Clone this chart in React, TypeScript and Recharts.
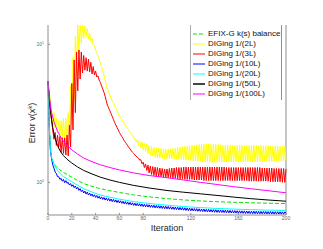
import { LineChart, Line, XAxis, YAxis, Legend, ReferenceLine } from "recharts";

// iteration index for the oscillating runs (one value per iteration)
const iterations = Array.from({ length: 201 }, (_, i) => i);

// sampled iterations for the smooth runs
const sampleIters = [0, 1, 2, 3, 4, 5, 6, 8, 10, 13, 16, 20, 25, 30, 37, 44, 52, 60, 72, 85, 100, 114, 128, 142, 156, 170, 185, 200];

const xTicks = [0, 20, 40, 60, 80, 100, 120, 140, 160, 180, 200];
const yTicks = [1, 10];

const efixG = [5.4, 2.7, 1.85, 1.55, 1.43, 1.37, 1.33, 1.27, 1.23, 1.18, 1.14, 1.09, 1.03, 0.98, 0.935, 0.9, 0.87, 0.845, 0.81, 0.785, 0.762, 0.746, 0.733, 0.724, 0.717, 0.711, 0.706, 0.702];
const diging20L = [5.4, 2.6, 1.75, 1.52, 1.42, 1.36, 1.3, 1.22, 1.16, 1.1, 1.06, 1.01, 0.95, 0.9, 0.85, 0.81, 0.78, 0.755, 0.725, 0.703, 0.683, 0.668, 0.656, 0.647, 0.64, 0.634, 0.629, 0.625];
const diging50L = [5.4, 4.0, 3.3, 2.85, 2.5, 2.25, 2.08, 1.85, 1.7, 1.56, 1.47, 1.38, 1.29, 1.22, 1.15, 1.09, 1.04, 1.0, 0.95, 0.91, 0.873, 0.848, 0.826, 0.804, 0.782, 0.762, 0.745, 0.73];
const diging100L = [5.4, 4.3, 3.6, 3.2, 2.95, 2.75, 2.6, 2.35, 2.18, 1.98, 1.85, 1.72, 1.6, 1.5, 1.41, 1.34, 1.28, 1.23, 1.17, 1.12, 1.08, 1.04, 1.0, 0.965, 0.93, 0.9, 0.87, 0.84];

const diging2L = [
  5.4, 4.6, 3.9, 3.4, 2.6, 3.2, 2.5, 2.9, 2.3, 2.8,
  2.2, 2.8, 2.1, 2.9, 2.0, 2.9, 2.0, 3.2, 2.1, 5.0,
  2.6, 8.0, 4.0, 11.5, 6.0, 15, 8.5, 15, 10.2, 14.2,
  11.0, 13.6, 11.4, 13.0, 11.0, 12.0, 10.6, 11.0, 9.9, 9.8,
  9.1, 8.7, 8.2, 7.8, 7.3, 6.9, 6.5, 6.0, 5.5, 5.1,
  4.7, 4.5, 4.3, 4.1, 3.9, 3.77, 3.6, 3.45, 3.3, 3.15,
  3.03, 2.95, 2.85, 2.76, 2.68, 2.6, 2.52, 2.45, 2.38, 2.3,
  2.22, 2.2, 2.08, 2.1, 1.96, 2.04, 1.86, 2.0, 1.78, 1.96,
  1.72, 1.93, 1.68, 1.9, 1.62, 1.86, 1.58, 1.82, 1.55, 1.8,
  1.52, 1.79, 1.5, 1.77, 1.5, 1.76, 1.49, 1.75, 1.48, 1.74,
  1.48, 1.74, 1.49, 1.75, 1.48, 1.76, 1.48, 1.77, 1.47, 1.78,
  1.47, 1.79, 1.46, 1.81, 1.46, 1.82, 1.45, 1.83, 1.45, 1.84,
  1.44, 1.85, 1.43, 1.86, 1.43, 1.87, 1.42, 1.88, 1.42, 1.88,
  1.41, 1.89, 1.41, 1.89, 1.41, 1.89, 1.4, 1.89, 1.4, 1.89,
  1.4, 1.88, 1.4, 1.88, 1.41, 1.87, 1.41, 1.86, 1.41, 1.86,
  1.41, 1.86, 1.41, 1.85, 1.41, 1.85, 1.41, 1.85, 1.41, 1.85,
  1.41, 1.85, 1.41, 1.85, 1.41, 1.85, 1.41, 1.85, 1.41, 1.85,
  1.41, 1.85, 1.41, 1.85, 1.41, 1.85, 1.41, 1.85, 1.41, 1.85,
  1.41, 1.84, 1.42, 1.84, 1.42, 1.84, 1.42, 1.83, 1.42, 1.83,
  1.42, 1.83, 1.43, 1.82, 1.43, 1.82, 1.43, 1.82, 1.43, 1.82,
  1.44,
];

const diging3L = [
  5.4, 4.3, 3.4, 2.8, 2.4, 2.05, 2.3, 1.85, 2.2, 1.8,
  2.15, 1.65, 2.1, 1.62, 2.1, 1.58, 2.2, 1.55, 2.6, 1.8,
  5.2, 2.4, 7.7, 3.2, 8.8, 4.6, 9.1, 5.6, 8.8, 6.2,
  8.3, 6.5, 8.0, 6.4, 7.8, 6.3, 7.4, 6.1, 6.9, 6.0,
  6.4, 5.8, 5.9, 5.5, 5.3, 5.0, 4.75, 4.5, 4.2, 3.9,
  3.6, 3.45, 3.3, 3.15, 3.0, 2.85, 2.72, 2.6, 2.5, 2.4,
  2.3, 2.22, 2.15, 2.08, 2.01, 1.95, 1.9, 1.84, 1.79, 1.74,
  1.69, 1.65, 1.62, 1.58, 1.55, 1.52, 1.5, 1.45, 1.46, 1.36,
  1.4, 1.28, 1.36, 1.22, 1.33, 1.17, 1.31, 1.14, 1.3, 1.12,
  1.29, 1.11, 1.28, 1.1, 1.27, 1.1, 1.26, 1.09, 1.25, 1.09,
  1.25, 1.08, 1.26, 1.08, 1.27, 1.07, 1.27, 1.07, 1.28, 1.06,
  1.28, 1.06, 1.28, 1.06, 1.29, 1.05, 1.29, 1.05, 1.29, 1.05,
  1.29, 1.05, 1.29, 1.04, 1.29, 1.04, 1.29, 1.04, 1.29, 1.04,
  1.29, 1.03, 1.29, 1.03, 1.29, 1.03, 1.29, 1.03, 1.29, 1.03,
  1.29, 1.03, 1.29, 1.03, 1.29, 1.03, 1.29, 1.03, 1.29, 1.03,
  1.28, 1.03, 1.28, 1.03, 1.28, 1.03, 1.28, 1.03, 1.28, 1.03,
  1.28, 1.03, 1.28, 1.03, 1.28, 1.03, 1.28, 1.03, 1.28, 1.02,
  1.28, 1.02, 1.28, 1.02, 1.28, 1.02, 1.28, 1.02, 1.28, 1.02,
  1.27, 1.02, 1.27, 1.02, 1.27, 1.02, 1.27, 1.01, 1.27, 1.01,
  1.26, 1.01, 1.26, 1.01, 1.26, 1.01, 1.26, 1.0, 1.26, 1.0,
  1.25,
];

const diging10L = [
  5.4, 2.5, 1.7, 1.48, 1.34, 1.27, 1.19, 1.16, 1.1, 1.1,
  1.05, 1.07, 1.02, 1.05, 0.995, 1.03, 0.985, 1.0, 0.955, 0.98,
  0.935, 0.96, 0.915, 0.94, 0.895, 0.92, 0.875, 0.9, 0.857, 0.88,
  0.837, 0.864, 0.822, 0.85, 0.81, 0.836, 0.798, 0.824, 0.788, 0.813,
  0.778, 0.803, 0.768, 0.793, 0.758, 0.785, 0.752, 0.778, 0.744, 0.771,
  0.738, 0.764, 0.731, 0.758, 0.725, 0.752, 0.719, 0.746, 0.714, 0.741,
  0.709, 0.735, 0.704, 0.73, 0.699, 0.725, 0.694, 0.72, 0.69, 0.716,
  0.685, 0.711, 0.68, 0.707, 0.677, 0.704, 0.674, 0.7, 0.671, 0.697,
  0.667, 0.694, 0.665, 0.691, 0.662, 0.688, 0.659, 0.685, 0.657, 0.683,
  0.653, 0.68, 0.651, 0.678, 0.649, 0.676, 0.647, 0.673, 0.644, 0.671,
  0.642, 0.669, 0.64, 0.666, 0.638, 0.664, 0.636, 0.662, 0.634, 0.66,
  0.632, 0.658, 0.63, 0.656, 0.628, 0.654, 0.626, 0.652, 0.624, 0.65,
  0.622, 0.648, 0.621, 0.646, 0.619, 0.645, 0.617, 0.643, 0.616, 0.641,
  0.614, 0.64, 0.613, 0.638, 0.611, 0.637, 0.61, 0.635, 0.609, 0.634,
  0.607, 0.633, 0.606, 0.631, 0.605, 0.63, 0.604, 0.629, 0.603, 0.628,
  0.602, 0.627, 0.601, 0.626, 0.6, 0.625, 0.599, 0.624, 0.598, 0.623,
  0.598, 0.622, 0.597, 0.621, 0.596, 0.621, 0.595, 0.62, 0.595, 0.619,
  0.594, 0.618, 0.593, 0.618, 0.593, 0.617, 0.592, 0.616, 0.592, 0.616,
  0.591, 0.615, 0.591, 0.615, 0.59, 0.614, 0.59, 0.614, 0.59, 0.613,
  0.589, 0.613, 0.589, 0.612, 0.589, 0.612, 0.588, 0.611, 0.588, 0.611,
  0.598,
];

type Series = { name: string; color: string; width: number; dash?: string; xs: number[]; ys: number[] };

const series: Series[] = [
  { name: "EFIX-G k(s) balance", color: "#00e600", width: 1, dash: "4 2", xs: sampleIters, ys: efixG },
  { name: "DIGing 1/(2L)", color: "#ffff00", width: 1, xs: iterations, ys: diging2L },
  { name: "DIGing 1/(3L)", color: "#ff0000", width: 1, xs: iterations, ys: diging3L },
  { name: "DIGing 1/(10L)", color: "#0000ff", width: 1, xs: iterations, ys: diging10L },
  { name: "DIGing 1/(20L)", color: "#00ffff", width: 1, xs: sampleIters, ys: diging20L },
  { name: "DIGing 1/(50L)", color: "#000000", width: 1, xs: sampleIters, ys: diging50L },
  { name: "DIGing 1/(100L)", color: "#ff00ff", width: 1, xs: sampleIters, ys: diging100L },
];

const font = "Arial, 'Liberation Sans', Helvetica, sans-serif";
const axisGrey = "#8c8c8c";

const toPoints = (xs: number[], ys: number[]) => xs.map((it, i) => ({ it, v: ys[i] }));

function XTick(props: any) {
  const { x, y, payload } = props;
  return (
    <text x={x} y={y + 7} textAnchor="middle" fontSize={5} fill="#666" fontFamily={font}>
      {payload.value}
    </text>
  );
}

function YTick(props: any) {
  const { x, y, payload } = props;
  const exp = Math.round(Math.log10(payload.value));
  return (
    <text x={x} y={y + 2} textAnchor="end" fontSize={5} fill="#666" fontFamily={font}>
      10<tspan dy={-2} fontSize={3.5}>{exp}</tspan>
    </text>
  );
}

function LegendBox() {
  return (
    <div
      style={{
        width: 90,
        padding: "4px 0 1px 0",
        borderLeft: "1px solid #b0b0b0",
        borderRight: "1px solid #909090",
        fontFamily: font,
        fontSize: 8,
        color: "#111",
        background: "#fff",
      }}
    >
      {series.map((s) => (
        <div key={s.name} style={{ height: 10, display: "flex", alignItems: "center", whiteSpace: "nowrap" }}>
          <svg width={17} height={10} style={{ flex: "none" }}>
            <line
              x1={2}
              x2={14}
              y1={5}
              y2={5}
              stroke={s.color === "#000000" ? "#444" : s.color}
              strokeWidth={s.color === "#000000" ? 2 : 1}
              strokeDasharray={s.dash}
            />
          </svg>
          <span style={{ lineHeight: "10px" }}>{s.name}</span>
        </div>
      ))}
    </div>
  );
}

export default function App() {
  return (
    <div style={{ position: "absolute", left: 0, top: 0, width: 323, height: 249, background: "#fff" }}>
      <LineChart width={323} height={249} margin={{ top: 25, right: 37, bottom: 14, left: 18 }}>
        <XAxis
          dataKey="it"
          type="number"
          domain={[0, 200]}
          ticks={xTicks}
          height={20}
          stroke={axisGrey}
          tickSize={-2}
          tickMargin={0}
          tick={<XTick />}
          label={{
            content: () => (
              <text x={167} y={231} textAnchor="middle" fontSize={9} fill="#262626" fontFamily={font}>
                Iteration
              </text>
            ),
          }}
        />
        <YAxis
          scale="log"
          type="number"
          domain={[0.58, 13.8]}
          allowDataOverflow
          ticks={yTicks}
          width={30}
          stroke={axisGrey}
          tickSize={-2}
          tickMargin={6}
          tick={<YTick />}
          label={{
            content: () => (
              <text
                x={35}
                y={123}
                transform="rotate(-90 35 123)"
                textAnchor="middle"
                fontSize={9}
                fill="#262626"
                fontFamily={font}
              >
                Error v(x<tspan dy={-3} fontSize={6}>k</tspan>
                <tspan dy={3}>)</tspan>
              </text>
            ),
          }}
        />
        <ReferenceLine x={200} stroke={axisGrey} ifOverflow="visible" />
        {series.map((s) => (
          <Line
            key={s.name}
            data={toPoints(s.xs, s.ys)}
            dataKey="v"
            name={s.name}
            type="linear"
            stroke={s.color}
            strokeWidth={s.width}
            strokeDasharray={s.dash}
            dot={false}
            activeDot={false}
            isAnimationActive={false}
          />
        ))}
        <Legend
          layout="vertical"
          align="center"
          verticalAlign="middle"
          wrapperStyle={{ left: 190, top: 25, width: 92 }}
          content={() => <LegendBox />}
        />
      </LineChart>
    </div>
  );
}
